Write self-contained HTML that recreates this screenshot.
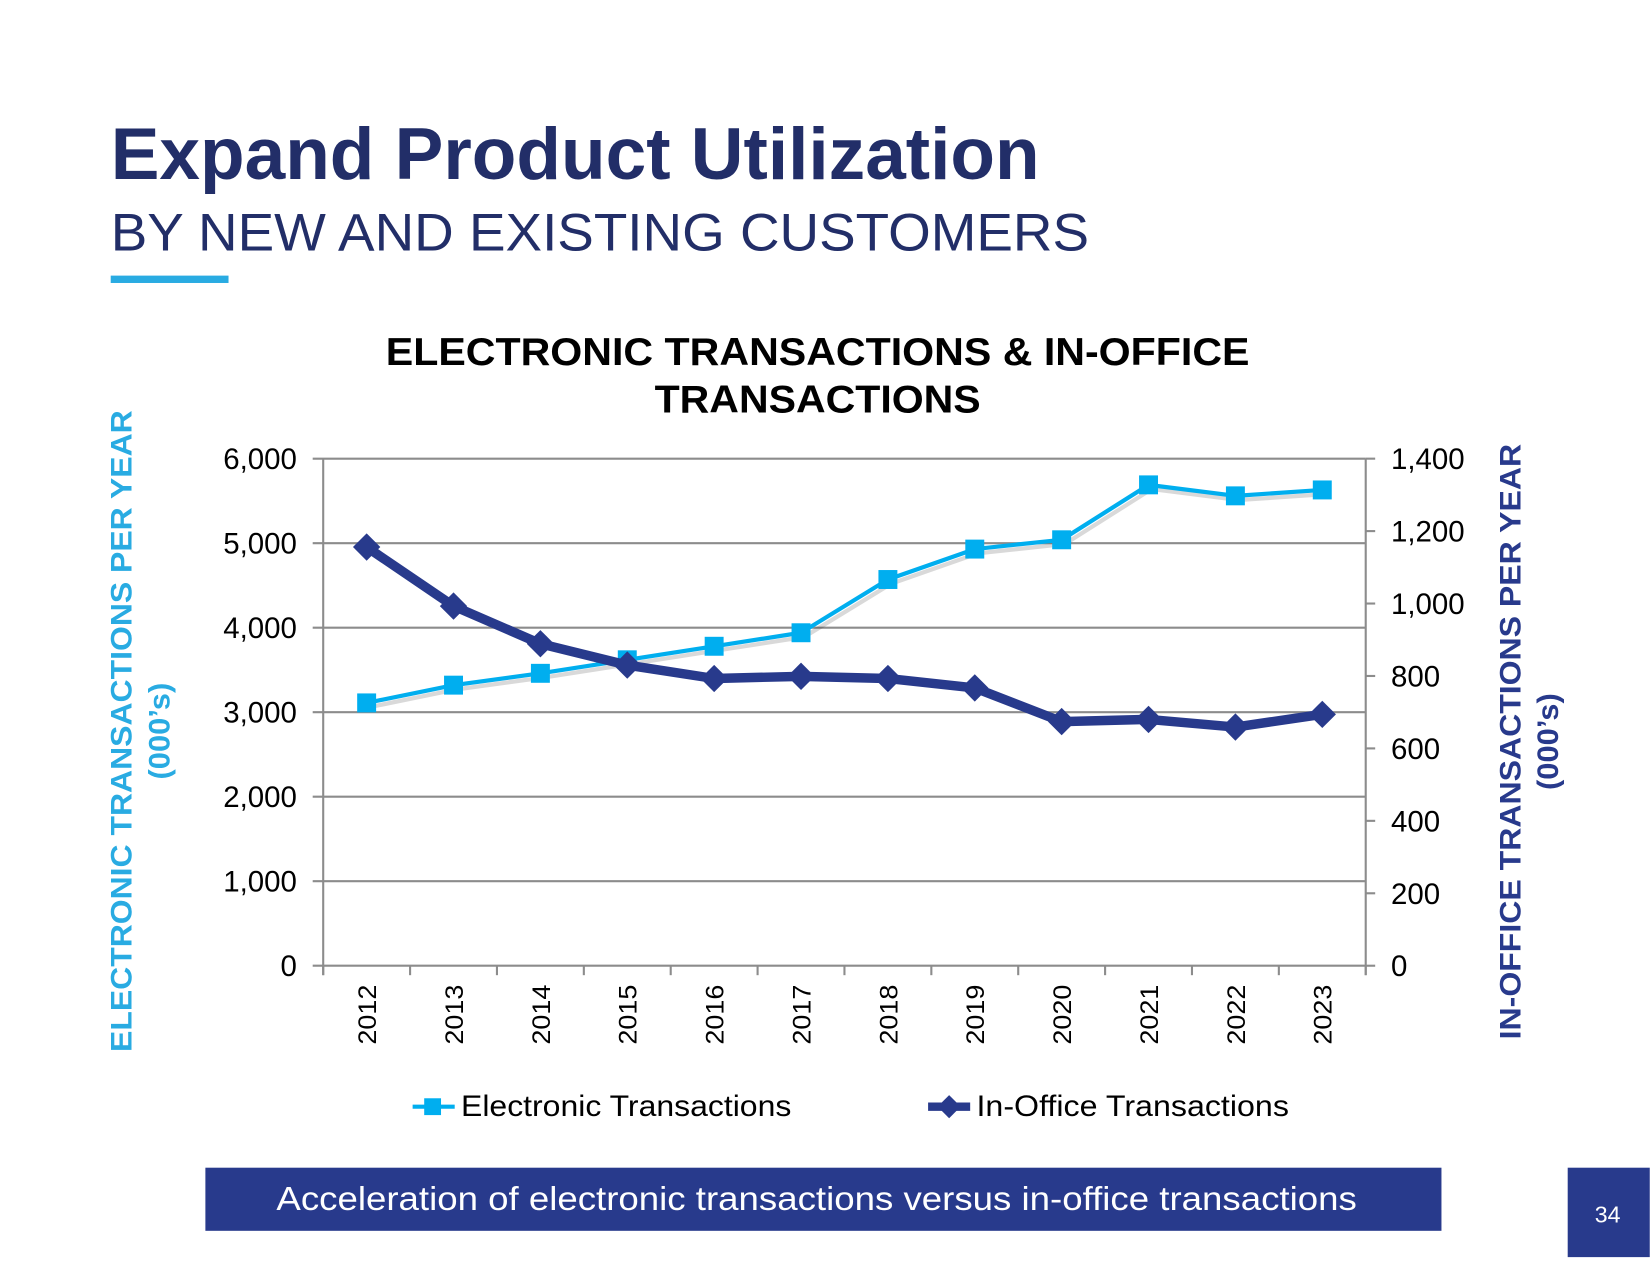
<!DOCTYPE html>
<html><head><meta charset="utf-8"><style>
html,body{margin:0;padding:0;background:#fff;}
svg{display:block;font-family:"Liberation Sans",Arial,sans-serif;}
</style></head><body>
<svg id="chart" width="1650" height="1275" viewBox="0 0 1568 1212" xmlns="http://www.w3.org/2000/svg">
<rect width="1568" height="1212" fill="#fff"/>
<text x="105" y="170" font-size="70" font-weight="bold" fill="#222e68" textLength="883" lengthAdjust="spacingAndGlyphs">Expand Product Utilization</text>
<text x="105" y="238" font-size="50" fill="#222e68" textLength="930" lengthAdjust="spacingAndGlyphs">BY NEW AND EXISTING CUSTOMERS</text>
<rect x="105" y="262" width="112" height="7" fill="#29abe2"/>
<text text-anchor="middle" font-size="37" font-weight="bold" fill="#000"><tspan x="777" y="347" textLength="821" lengthAdjust="spacingAndGlyphs">ELECTRONIC TRANSACTIONS &amp; IN-OFFICE</tspan><tspan x="777" y="392" textLength="310" lengthAdjust="spacingAndGlyphs">TRANSACTIONS</tspan></text>
<g id="plot"></g>
<text transform="translate(125,695) rotate(-90)" text-anchor="middle" font-size="28" font-weight="bold" fill="#29abe2"><tspan x="0" y="0" textLength="610" lengthAdjust="spacingAndGlyphs">ELECTRONIC TRANSACTIONS PER YEAR</tspan><tspan x="0" y="36" textLength="92" lengthAdjust="spacingAndGlyphs">(000’s)</tspan></text>
<text transform="translate(1445,705) rotate(-90)" text-anchor="middle" font-size="28" font-weight="bold" fill="#283a8c"><tspan x="0" y="0" textLength="566" lengthAdjust="spacingAndGlyphs">IN-OFFICE TRANSACTIONS PER YEAR</tspan><tspan x="0" y="36" textLength="92" lengthAdjust="spacingAndGlyphs">(000’s)</tspan></text>
<g>
<g>
<line x1="392" y1="1052" x2="432" y2="1052" stroke="#00aeef" stroke-width="4"/>
<rect x="403" y="1044" width="16" height="16" fill="#00aeef"/>
<text x="438" y="1061" font-size="28" fill="#000" textLength="314" lengthAdjust="spacingAndGlyphs">Electronic Transactions</text>
</g>
<g>
<line x1="882" y1="1052" x2="922" y2="1052" stroke="#283a8c" stroke-width="8"/>
<polygon points="902,1041 913,1052 902,1063 891,1052" fill="#283a8c"/>
<text x="928" y="1061" font-size="28" fill="#000" textLength="297" lengthAdjust="spacingAndGlyphs">In-Office Transactions</text>
</g>
</g>
<rect x="195" y="1110" width="1175" height="60" fill="#283a8c"/>
<text x="776" y="1150" text-anchor="middle" font-size="32" fill="#fff" textLength="1027" lengthAdjust="spacingAndGlyphs">Acceleration of electronic transactions versus in-office transactions</text>
<rect x="1490" y="1110" width="78" height="85" fill="#283a8c"/>
<text x="1528" y="1162" text-anchor="middle" font-size="22" fill="#fff">34</text>
</svg>
<script>
const categories = ['2012','2013','2014','2015','2016','2017','2018','2019','2020','2021','2022','2023'];
const electronicValues = [3110, 3320, 3460, 3620, 3780, 3940, 4570, 4930, 5040, 5690, 5560, 5630];
const inOfficeValues = [1156, 993, 889, 830, 793, 799, 793, 767, 674, 680, 659, 694];
const leftTicks = [0, 1000, 2000, 3000, 4000, 5000, 6000];
const rightTicks = [0, 200, 400, 600, 800, 1000, 1200, 1400];

const NS = 'http://www.w3.org/2000/svg';
const g = document.getElementById('plot');
const X0 = 307, X1 = 1298, Y0 = 918, Y1 = 436;
const LMAX = 6000, RMAX = 1400;
const band = (X1 - X0) / categories.length;
function xPos(i) { return X0 + band * (i + 0.5); }
function yLeft(v) { return Y0 - (v / LMAX) * (Y0 - Y1); }
function yRight(v) { return Y0 - (v / RMAX) * (Y0 - Y1); }
function mk(tag, attrs) { const e = document.createElementNS(NS, tag); for (const k in attrs) e.setAttribute(k, attrs[k]); g.appendChild(e); return e; }

leftTicks.forEach(t => {
  const y = yLeft(t);
  const l = mk('line', {x1: X0 - 10, y1: y, x2: X1, y2: y, stroke: '#8c8c8c', 'stroke-width': 2});
  
  
  const tx = mk('text', {x: 282, y: y + 10, 'text-anchor': 'end', 'font-size': 28, fill: '#000'});
  tx.textContent = t.toLocaleString('en-US');
  
  
});
rightTicks.forEach(t => {
  const y = yRight(t);
  const l = mk('line', {x1: X1, y1: y, x2: X1 + 9, y2: y, stroke: '#8c8c8c', 'stroke-width': 2});
  
  
  const tx = mk('text', {x: 1322, y: y + 10, 'font-size': 28, fill: '#000'});
  tx.textContent = t.toLocaleString('en-US');
  
  
});
const la = mk('line', {x1: X0, y1: Y1, x2: X0, y2: Y0 + 9, stroke: '#8c8c8c', 'stroke-width': 2});


const ra = mk('line', {x1: X1, y1: Y1, x2: X1, y2: Y0 + 9, stroke: '#8c8c8c', 'stroke-width': 2});


for (let k = 0; k <= categories.length; k++) {
  const x = X0 + band * k;
  const t = mk('line', {x1: x, y1: Y0, x2: x, y2: Y0 + 9, stroke: '#8c8c8c', 'stroke-width': 2});
  
  
}
categories.forEach((c, i) => {
  const x = xPos(i);
  const t = mk('text', {transform: `translate(${x + 9},993) rotate(-90)`, 'font-size': 24, fill: '#000', textLength: 57, lengthAdjust: 'spacingAndGlyphs'});
  t.textContent = c;
  
  
});

const ePts = electronicValues.map((v, i) => `${xPos(i)},${yLeft(v)}`).join(' ');
const eShadow = mk('polyline', {points: ePts, fill: 'none', stroke: 'rgba(0,0,0,0.15)', 'stroke-width': 4, transform: 'translate(3,4)'});


const eLine = mk('polyline', {points: ePts, fill: 'none', stroke: '#00aeef', 'stroke-width': 4, 'stroke-linejoin': 'round'});


electronicValues.forEach((v, i) => {
  const r = mk('rect', {x: xPos(i) - 9, y: yLeft(v) - 9, width: 18, height: 18, fill: '#00aeef'});
  
  
});

const oPts = inOfficeValues.map((v, i) => `${xPos(i)},${yRight(v)}`).join(' ');
const oLine = mk('polyline', {points: oPts, fill: 'none', stroke: '#283a8c', 'stroke-width': 9, 'stroke-linejoin': 'round'});


inOfficeValues.forEach((v, i) => {
  const x = xPos(i), y = yRight(v);
  const p = mk('polygon', {points: `${x},${y - 13} ${x + 13},${y} ${x},${y + 13} ${x - 13},${y}`, fill: '#283a8c'});
  
  
});
</script>
</body></html>
